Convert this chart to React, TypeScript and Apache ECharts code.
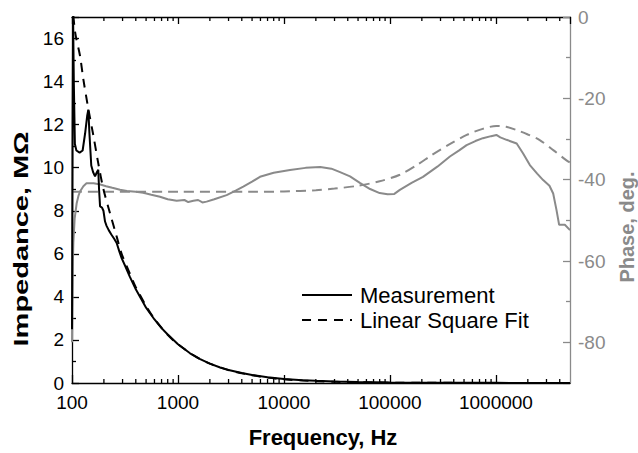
import React, { useEffect, useRef } from "react";
import * as echarts from "echarts";

// ---- data ----
const impedanceMeasured: [number, number][] = [
  [100, 2.5], [101.3, 12.0], [102.5, 16.85], [104, 14.0], [106.5, 11.1], [110, 10.8],
  [118, 10.7], [126, 10.8], [133, 11.6], [139, 12.4], [142.6, 12.7], [146, 11.6],
  [152, 10.1], [158, 9.8], [165, 9.6], [172, 9.8], [177, 9.9], [180, 9.0], [184, 8.2],
  [192, 8.15], [198, 8.0], [205, 7.5], [212, 7.3], [222, 7.1], [235, 6.9], [250, 6.7],
  [264, 6.5], [280, 6.1], [294, 5.8], [320, 5.4], [350, 4.95], [400, 4.35], [450, 3.9],
  [500, 3.5], [600, 2.95], [700, 2.55], [800, 2.25], [1000, 1.8], [1300, 1.38],
  [1600, 1.12], [2000, 0.9], [2500, 0.72], [3000, 0.6], [4000, 0.46], [5000, 0.37],
  [7000, 0.27], [10000, 0.19], [15000, 0.13], [20000, 0.1], [30000, 0.068],
  [50000, 0.042], [100000, 0.022], [200000, 0.013], [500000, 0.008], [1000000, 0.006],
  [2000000, 0.005], [5000000, 0.004],
];

const impedanceFit: [number, number][] = [
  [100, 17.8], [107, 16.3], [119, 15.2], [128, 14.1], [143, 12.7], [159, 11.5],
  [177, 10.2], [198, 9.0], [228, 7.9], [264, 6.8], [294, 6.0], [350, 5.1], [400, 4.45],
  [500, 3.58], [600, 2.98], [800, 2.24], [1000, 1.8], [1500, 1.2], [2000, 0.9],
  [3000, 0.6], [5000, 0.36], [7000, 0.25], [10000, 0.17], [20000, 0.085],
  [50000, 0.034], [100000, 0.017], [1000000, 0.002], [5000000, 0.0004],
];

const phaseMeasured: [number, number][] = [
  [100, -80], [101, -70], [102, -60], [103, -55.5], [106, -49.5], [110.7, -45.8],
  [115, -44], [119, -42.9], [128, -41.6], [137, -40.9], [160, -40.9], [185, -41.2],
  [210, -41.6], [240, -42.0], [284, -42.5], [330, -42.8], [400, -43.0], [470, -43.2],
  [560, -43.7], [676, -44.2], [800, -44.8], [972, -45.2], [1150, -45.0], [1250, -45.5],
  [1397, -45.2], [1550, -45.0], [1700, -45.6], [1863, -45.4], [2200, -44.8],
  [2877, -43.8], [3500, -42.7], [4131, -41.7], [5000, -40.5], [5940, -39.3],
  [8000, -38.3], [11400, -37.6], [16000, -37.1], [22000, -36.9], [28000, -37.3],
  [33400, -38.1], [42000, -39.2], [52000, -40.8], [65000, -42.3], [80000, -43.3],
  [95000, -43.6], [110000, -43.5], [124000, -42.5], [160000, -40.8], [205000, -39.3],
  [280000, -36.8], [368000, -34.3], [450000, -32.8], [529000, -31.5], [640000, -30.5],
  [754000, -29.8], [900000, -29.3], [1010000, -29.0], [1100000, -29.6],
  [1260000, -30.2], [1570000, -31.1], [1800000, -33.5], [2090000, -36.4],
  [2450000, -38.5], [2790000, -40.1], [3200000, -41.5], [3470000, -43.4],
  [3730000, -47.5], [3950000, -51.1], [4470000, -51.1], [5000000, -52.4],
];

const phaseFit: [number, number][] = [
  [100, -43.0], [1000, -43.0], [5000, -43.0], [10000, -42.9], [20000, -42.6],
  [30000, -42.2], [50000, -41.5], [80000, -40.4], [124000, -38.8], [180000, -36.4],
  [250000, -33.9], [370000, -31.2], [530000, -29.0], [750000, -27.5],
  [1010000, -26.8], [1250000, -27.0], [1570000, -27.8], [2000000, -28.9],
  [2570000, -30.2], [3500000, -32.8], [4600000, -35.2], [5000000, -35.8],
];

const minorFreqTicks: number[] = [
  200, 300, 400, 500, 600, 700, 800, 900,
  2000, 3000, 4000, 5000, 6000, 7000, 8000, 9000,
  20000, 30000, 40000, 50000, 60000, 70000, 80000, 90000,
  200000, 300000, 400000, 500000, 600000, 700000, 800000, 900000,
  2000000, 3000000, 4000000,
];

const legendNames = ["Measurement", "Linear Square Fit"];
const xTitle = "Frequency, Hz";
const yLeftTitle = "Impedance, M\u03A9";
const yRightTitle = "Phase, deg.";

const FREQ_MIN = 100;
const FREQ_MAX = 5000000;
const IMP_MIN = 0;
const IMP_MAX = 17;
const PHASE_MIN = -90;
const PHASE_MAX = 0;

const FONT = "'Liberation Sans', Arial, Helvetica, sans-serif";
const GRAY = "#8a8a8a";

export default function App() {
  const ref = useRef<HTMLDivElement>(null);

  useEffect(() => {
    if (!ref.current) return;
    const chart = echarts.init(ref.current, undefined, { renderer: "svg" });

    const xBase = {
      type: "log" as const,
      logBase: 10,
      min: FREQ_MIN,
      max: FREQ_MAX,
      splitLine: { show: false },
    };

    const option: any = {
      animation: false,
      backgroundColor: "#ffffff",
      textStyle: { fontFamily: FONT },
      grid: { left: 72, right: 68, top: 17, bottom: 70, containLabel: false },
      graphic: [
        {
          type: "text",
          x: 21,
          y: 239,
          rotation: Math.PI / 2,
          scaleX: 1.45,
          style: {
            text: yLeftTitle,
            fontSize: 20,
            fontWeight: "bold",
            fontFamily: FONT,
            fill: "#000",
            align: "center",
            verticalAlign: "middle",
          },
        },
        {
          type: "text",
          x: 627,
          y: 227,
          rotation: Math.PI / 2,
          style: {
            text: yRightTitle,
            fontSize: 20,
            fontWeight: "bold",
            fontFamily: FONT,
            fill: GRAY,
            align: "center",
            verticalAlign: "middle",
          },
        },
        {
          type: "text",
          x: 323,
          y: 437,
          style: {
            text: xTitle,
            fontSize: 22,
            fontWeight: "bold",
            fontFamily: FONT,
            fill: "#000",
            align: "center",
            verticalAlign: "middle",
          },
        },
        {
          type: "line",
          shape: { x1: 302, y1: 295, x2: 352, y2: 295 },
          style: { stroke: "#000", lineWidth: 2 },
        },
        {
          type: "text",
          x: 360,
          y: 295,
          style: {
            text: legendNames[0],
            fontSize: 22,
            fontFamily: FONT,
            fill: "#000",
            align: "left",
            verticalAlign: "middle",
          },
        },
        {
          type: "line",
          shape: { x1: 302, y1: 320, x2: 352, y2: 320 },
          style: { stroke: "#000", lineWidth: 2, lineDash: [9, 7] },
        },
        {
          type: "text",
          x: 360,
          y: 320,
          style: {
            text: legendNames[1],
            fontSize: 22,
            fontFamily: FONT,
            fill: "#000",
            align: "left",
            verticalAlign: "middle",
          },
        },
      ],
      xAxis: [
        {
          ...xBase,
          position: "bottom",
          axisLine: { show: true, lineStyle: { color: "#000", width: 1.3 } },
          axisTick: { show: true, inside: true, length: 8, lineStyle: { color: "#000", width: 1.3 } },
          axisLabel: {
            show: true,
            margin: 10,
            fontSize: 19,
            color: "#000",
            fontFamily: FONT,
            showMaxLabel: false,
            formatter: (v: number) => String(Math.round(v)),
          },
        },
        {
          ...xBase,
          position: "top",
          axisLine: { show: true, lineStyle: { color: "#000", width: 1.3 } },
          axisTick: { show: true, inside: true, length: 7, lineStyle: { color: "#000", width: 1.3 } },
          axisLabel: { show: false, showMaxLabel: false },
        },
      ],
      yAxis: [
        {
          type: "value",
          position: "left",
          min: IMP_MIN,
          max: IMP_MAX,
          interval: 2,
          axisLine: { show: true, lineStyle: { color: "#000", width: 1.3 } },
          axisTick: { show: true, inside: true, length: 7, lineStyle: { color: "#000", width: 1.3 } },
          minorTick: { show: true, splitNumber: 2, length: 4, lineStyle: { color: "#000", width: 1.3 } },
          axisLabel: { fontSize: 19, color: "#000", fontFamily: FONT, margin: 8, showMaxLabel: false },
          splitLine: { show: false },
        },
        {
          type: "value",
          position: "right",
          min: PHASE_MIN,
          max: PHASE_MAX,
          splitNumber: 5,
          axisLine: { show: true, lineStyle: { color: GRAY, width: 1.3 } },
          axisTick: { show: true, inside: true, length: 7, lineStyle: { color: GRAY, width: 1.3 } },
          minorTick: { show: true, splitNumber: 2, length: 4, lineStyle: { color: GRAY, width: 1.3 } },
          axisLabel: { fontSize: 19, color: GRAY, fontFamily: FONT, margin: 8, showMinLabel: false },
          splitLine: { show: false },
        },
      ],
      series: [
        {
          name: "Phase measured",
          type: "line",
          xAxisIndex: 0,
          yAxisIndex: 1,
          data: phaseMeasured,
          showSymbol: false,
          symbol: "none",
          lineStyle: { color: GRAY, width: 2 },
          itemStyle: { color: GRAY },
          z: 2,
        },
        {
          name: "Phase fit",
          type: "line",
          xAxisIndex: 0,
          yAxisIndex: 1,
          data: phaseFit,
          showSymbol: false,
          symbol: "none",
          smooth: 0.3,
          lineStyle: { color: GRAY, width: 2, type: [10, 6] },
          itemStyle: { color: GRAY },
          z: 2,
        },
        {
          name: legendNames[0],
          type: "line",
          xAxisIndex: 0,
          yAxisIndex: 0,
          data: impedanceMeasured,
          showSymbol: false,
          symbol: "none",
          lineStyle: { color: "#000", width: 2 },
          itemStyle: { color: "#000" },
          z: 3,
        },
        {
          name: legendNames[1],
          type: "line",
          xAxisIndex: 0,
          yAxisIndex: 0,
          data: impedanceFit,
          showSymbol: false,
          symbol: "none",
          smooth: 0.3,
          lineStyle: { color: "#000", width: 2, type: [9, 7] },
          itemStyle: { color: "#000" },
          z: 3,
        },
        {
          name: "minorTicks",
          type: "custom",
          xAxisIndex: 0,
          yAxisIndex: 0,
          silent: true,
          data: minorFreqTicks.map((f) => [f, 0]),
          renderItem: (params: any, api: any) => {
            const px = api.coord([api.value(0), 0])[0];
            const cs = params.coordSys;
            const top = cs.y;
            const bottom = cs.y + cs.height;
            const style = { stroke: "#000", lineWidth: 1.3 };
            return {
              type: "group",
              children: [
                { type: "line", shape: { x1: px, y1: bottom, x2: px, y2: bottom - 4 }, style },
                { type: "line", shape: { x1: px, y1: top, x2: px, y2: top + 4 }, style },
              ],
            };
          },
          z: 4,
        },
      ],
    };

    chart.setOption(option);
    return () => chart.dispose();
  }, []);

  return (
    <div
      ref={ref}
      style={{ position: "absolute", left: 0, top: 0, width: 638, height: 453, background: "#fff" }}
    />
  );
}
